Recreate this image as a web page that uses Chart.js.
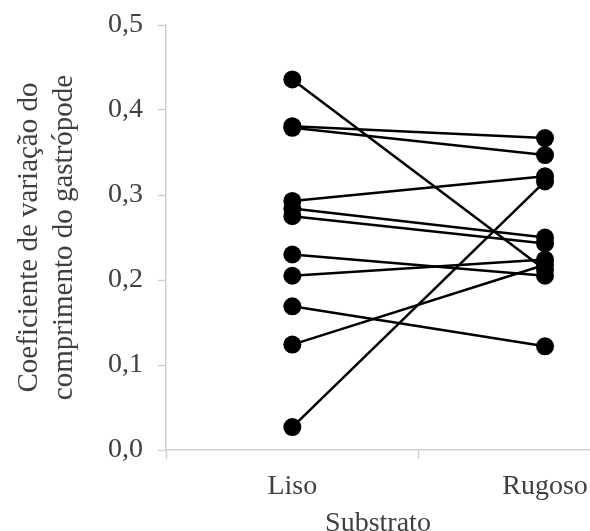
<!DOCTYPE html>
<html>
<head>
<meta charset="utf-8">
<script src="https://cdn.jsdelivr.net/npm/chart.js@4/dist/chart.umd.min.js"></script>
<style>
  html, body { margin: 0; padding: 0; background: #fff; overflow: hidden; }
  #wrap { width: 590px; height: 531px; }
</style>
</head>
<body>
<div id="wrap"><canvas id="chart" width="590" height="531"></canvas></div>
<script>
// Values: one line per individual, Liso -> Rugoso.
var categories = ["Liso", "Rugoso"];
var liso = [0.436, 0.381, 0.379, 0.293, 0.284, 0.275, 0.230, 0.205, 0.169, 0.124, 0.027];
var rugoso = [0.212, 0.367, 0.347, 0.322, 0.250, 0.243, 0.205, 0.224, 0.122, 0.218, 0.316];
var yTickLabels = ["0,0", "0,1", "0,2", "0,3", "0,4", "0,5"];
var yTitle = ["Coeficiente de variação do", "comprimento do gastrópode"];
var xTitle = "Substrato";

var textColor = "#404040";
var axisColor = "#d0d0d0";
var serif = "'Liberation Serif', 'Times New Roman', serif";

var datasets = liso.map(function (v, i) {
  return {
    data: [
      { x: 1, y: v },
      { x: 2, y: rugoso[i] },
    ],
    borderColor: "#000",
    backgroundColor: "#000",
    borderWidth: 2.5,
    pointRadius: 9,
    pointBorderWidth: 0,
    pointBackgroundColor: "#000",
    showLine: true,
  };
});

var ctx = document.getElementById("chart").getContext("2d");
new Chart(ctx, {
  type: "scatter",
  data: { datasets: datasets },
  options: {
    responsive: false,
    animation: false,
    layout: { autoPadding: false, padding: { top: 25, left: 0, right: 0, bottom: 0 } },
    plugins: {
      legend: { display: false },
      tooltip: { enabled: false },
    },
    scales: {
      x: {
        type: "linear",
        min: 0.5,
        max: 2.178,
        afterBuildTicks: function (scale) {
          scale.ticks = [0.5, 1, 1.5, 2].map(function (v) {
            return { value: v };
          });
        },
        afterFit: function (scale) {
          scale.height = 81;
          scale.paddingLeft = 0;
          scale.paddingRight = 0;
        },
        border: { color: axisColor, width: 1.5 },
        grid: {
          drawOnChartArea: false,
          tickLength: 9,
          tickWidth: 1.5,
          tickColor: function (c) {
            return c.tick && Number.isInteger(c.tick.value) ? "rgba(0,0,0,0)" : axisColor;
          },
        },
        ticks: {
          autoSkip: false,
          maxRotation: 0,
          padding: 11,
          color: textColor,
          font: { family: serif, size: 28 },
          callback: function (value) {
            if (value === 1) return categories[0];
            if (value === 2) return categories[1];
            return "";
          },
        },
        title: {
          display: true,
          text: xTitle,
          color: textColor,
          font: { family: serif, size: 28, lineHeight: 0.5 },
          padding: { top: 0, bottom: 0 },
        },
      },
      y: {
        min: 0,
        max: 0.5,
        afterFit: function (scale) {
          scale.width = 166;
          scale.paddingTop = 0;
          scale.paddingBottom = 0;
        },
        border: { color: axisColor, width: 1.5 },
        grid: {
          drawOnChartArea: false,
          tickLength: 8,
          tickWidth: 1.5,
          tickColor: axisColor,
        },
        ticks: {
          stepSize: 0.1,
          padding: 15,
          color: textColor,
          font: { family: serif, size: 28 },
          callback: function (value) {
            return yTickLabels[Math.round(value * 10)];
          },
        },
        title: {
          display: true,
          text: yTitle,
          color: textColor,
          font: { family: serif, size: 29, lineHeight: 1.2 },
          padding: { top: 12, bottom: 0 },
        },
      },
    },
  },
});
</script>
</body>
</html>
